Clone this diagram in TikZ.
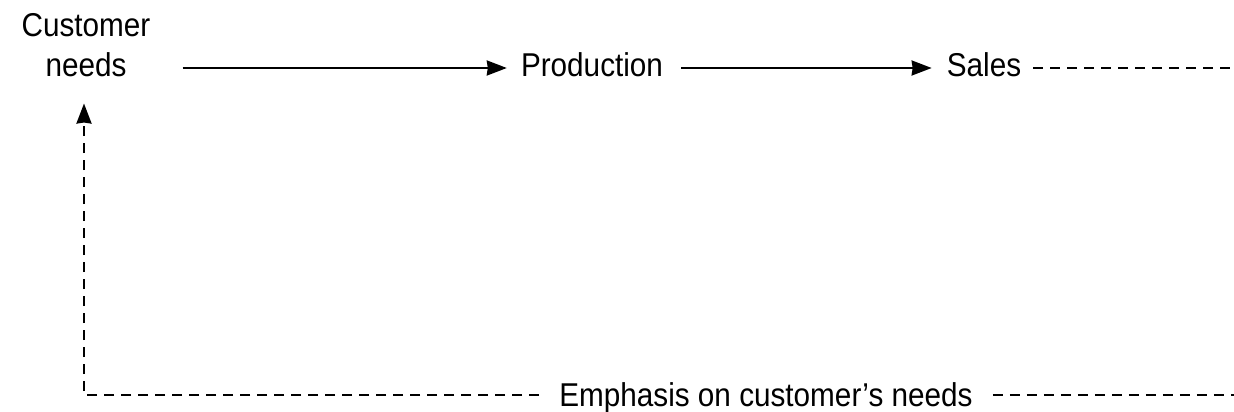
\documentclass[tikz,border=0pt]{standalone}
\usepackage{fontspec}
\setmainfont{Liberation Sans}[FakeStretch=0.9]
\usetikzlibrary{arrows.meta}
\begin{document}
\begin{tikzpicture}[x=1pt,y=-1pt,
  lbl/.style={inner sep=0pt, font=\fontsize{33}{40}\selectfont},
  tip/.style={-{Stealth[length=20pt,width=15pt,inset=1pt]}},
  flow/.style={line width=2.2pt, tip},
  back/.style={line width=2.2pt, dash pattern=on 10pt off 7pt},
]
\useasboundingbox (0,0) rectangle (1234,412);
\node[lbl, align=center, anchor=base] (cn) at (86,77) {Customer\\needs};
\node[lbl, anchor=base] (prod) at (592,77) {Production};
\node[lbl, anchor=base] (sales) at (984,77) {Sales};
\node[lbl, anchor=base] (emph) at (766,406) {Emphasis on customer’s needs};
\coordinate (r1) at (1234,68);
\coordinate (r2) at (1234,395);
\coordinate (pL) at ([xshift=-14pt,yshift=9pt]prod.base west);
\coordinate (pR) at ([xshift=18pt,yshift=9pt]prod.base east);
\coordinate (sL) at ([xshift=-15pt,yshift=9pt]sales.base west);
\coordinate (sR) at ([xshift=12pt,yshift=9pt]sales.base east);
\coordinate (eR) at ([xshift=20pt,yshift=11pt]emph.base east);
\coordinate (eL) at ([xshift=-20pt,yshift=11pt]emph.base west);
\draw[flow] ([xshift=32pt]cn.east |- pL) -- (pL);
\draw[flow] (pR) -- (sL);
\draw[back] (sR) -- (r1 |- sR);
\draw[back] (eR) -- (r2 |- eR);
\draw[back, tip] (eL) -| ([xshift=-2pt,yshift=-26pt]cn.south);
\end{tikzpicture}
\end{document}
